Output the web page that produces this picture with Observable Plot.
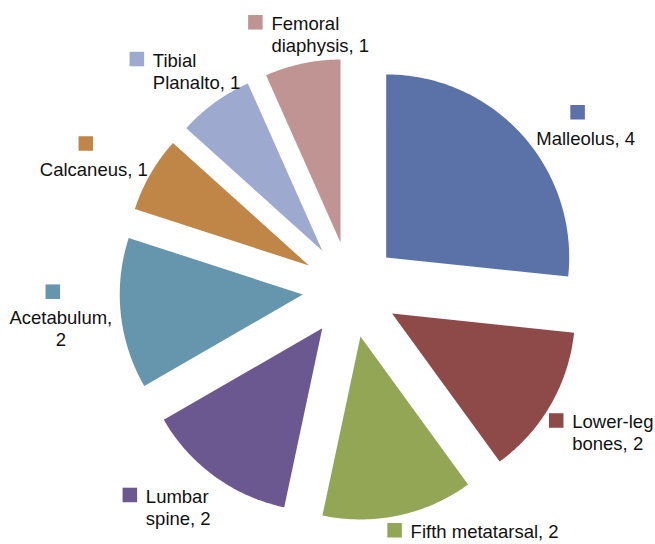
<!DOCTYPE html>
<html>
<head>
<meta charset="utf-8">
<script src="https://cdn.jsdelivr.net/npm/d3@7"></script>
<script src="https://cdn.jsdelivr.net/npm/@observablehq/plot@0.6"></script>
<style>
  html, body { margin: 0; padding: 0; background: #ffffff; }
  #chart { width: 655px; height: 544px; }
</style>
</head>
<body>
<div id="chart"></div>
<script>
// ---- data ----
const categories = ["Malleolus", "Lower-leg bones", "Fifth metatarsal", "Lumbar spine", "Acetabulum", "Calcaneus", "Tibial Planalto", "Femoral diaphysis"];
const counts = [4, 2, 2, 2, 2, 1, 1, 1];
const labelTexts = ["Malleolus, 4", "Lower-leg\nbones, 2", "Fifth metatarsal, 2", "Lumbar\nspine, 2", "Acetabulum,\n2", "Calcaneus, 1", "Tibial\nPlanalto, 1", "Femoral\ndiaphysis, 1"];

// ---- styles / layout ----
const colors = ["#5b72a8", "#8e4a48", "#92a656", "#6c5891", "#6596ad", "#bf8647", "#9ea9cf", "#bf9492"];
const W = 655, H = 544;
const cx = 350, cy = 289, R = 183, explode = 48, labelGap = 10;
const fontSize = 18.5, lineH = 22;
const labelKind = ["top", "left", "left", "left", "top", "top", "left", "left"];
const labelNudge = [[56, 14], [13, 16], [10, 10.5], [-63, 16], [-50, 7], [-48, 4.5], [-56, -30], [-29, -26]];

const rows = categories.map((name, i) => ({name, value: counts[i], i}));
const arcs = d3.pie().sort(null).value(d => d.value)(rows);

const slicePts = [];
const labelRows = [];
const squareRows = [];
for (const a of arcs) {
  const d = a.data;
  const mid = (a.startAngle + a.endAngle) / 2;
  const ox = cx + explode * Math.sin(mid);
  const oy = cy - explode * Math.cos(mid);
  slicePts.push({name: d.name, x: ox, y: oy});
  const n = Math.max(8, Math.ceil((a.endAngle - a.startAngle) * 180 / Math.PI));
  for (let k = 0; k <= n; k++) {
    const t = a.startAngle + (a.endAngle - a.startAngle) * k / n;
    slicePts.push({name: d.name, x: ox + R * Math.sin(t), y: oy - R * Math.cos(t)});
  }
  const L = R + explode + labelGap;
  const px = cx + L * Math.sin(mid) + labelNudge[d.i][0];
  const baseline = cy - L * Math.cos(mid) + labelNudge[d.i][1];
  const kind = labelKind[d.i];
  labelRows.push({name: d.name, text: labelTexts[d.i], x: px, y: baseline - 0.71 * fontSize, anchor: kind === "top" ? "middle" : "start"});
  if (kind === "top") squareRows.push({name: d.name, x: px - 8, y: baseline - 30});
  else squareRows.push({name: d.name, x: px - 16, y: baseline - 5.5});
}

const chart = Plot.plot({
  width: W,
  height: H,
  margin: 0,
  x: {domain: [0, W], range: [0, W], axis: null},
  y: {domain: [0, H], range: [0, H], axis: null},
  color: {domain: categories, range: colors},
  style: {fontFamily: "'Liberation Sans', Arial, sans-serif", background: "#ffffff", color: "#000000"},
  marks: [
    Plot.line(slicePts, {x: "x", y: "y", z: "name", fill: "name", stroke: "none", curve: "linear-closed"}),
    Plot.dot(squareRows, {x: "x", y: "y", fill: "name", symbol: "square", r: 8.2, stroke: "none"}),
    Plot.text(labelRows.filter(d => d.anchor === "middle"), {x: "x", y: "y", text: "text", textAnchor: "middle", lineAnchor: "top", fontSize, lineHeight: lineH / fontSize, fill: "#111111"}),
    Plot.text(labelRows.filter(d => d.anchor === "start"), {x: "x", y: "y", text: "text", textAnchor: "start", lineAnchor: "top", fontSize, lineHeight: lineH / fontSize, fill: "#111111"})
  ]
});
document.getElementById("chart").appendChild(chart);
</script>
</body>
</html>
